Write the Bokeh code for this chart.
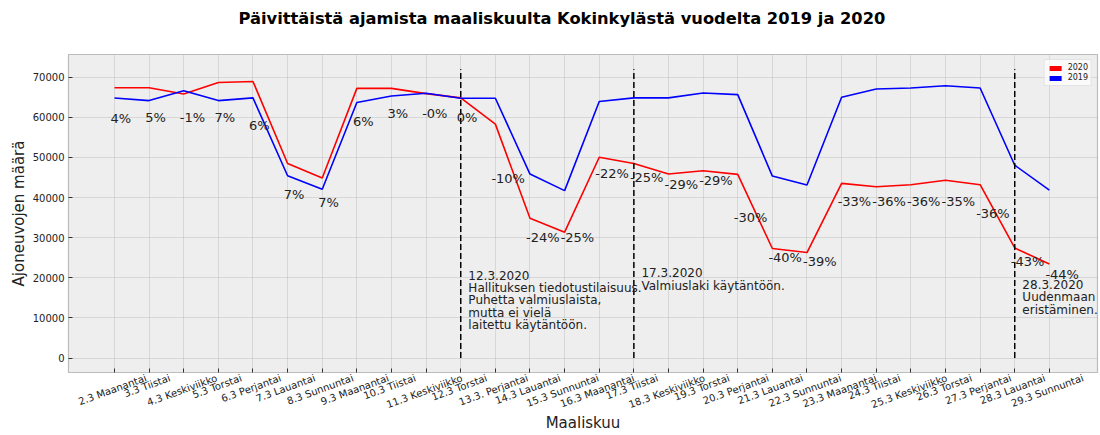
import math
from bokeh.plotting import figure
from bokeh.models import (ColumnDataSource, FixedTicker, Range1d, Label, Legend,
                          LegendItem, BasicTickFormatter, LinearAxis, CustomLabelingPolicy)
from bokeh.core.properties import value
from bokeh.embed import file_html
from bokeh.resources import INLINE

# ---------------- data ----------------
days = ["2.3 Maanantai", "3.3 Tiistai", "4.3 Keskiviikko", "5.3 Torstai", "6.3 Perjantai",
        "7.3 Lauantai", "8.3 Sunnuntai", "9.3 Maanantai", "10.3 Tiistai", "11.3 Keskiviikko",
        "12.3 Torstai", "13.3. Perjantai", "14.3 Lauantai", "15.3 Sunnuntai", "16.3 Maanantai",
        "17.3 Tiistai", "18.3 Keskiviikko", "19.3 Torstai", "20.3 Perjantai", "21.3 Lauantai",
        "22.3 Sunnuntai", "23.3 Maanantai", "24.3 Tiistai", "25.3 Keskiviikko", "26.3 Torstai",
        "27.3 Perjantai", "28.3 Lauantai", "29.3 Sunnuntai"]

traffic_2020 = [67370, 67370, 65810, 68690, 68930, 48480, 44860, 67210, 67210, 65900,
                64830, 58300, 34850, 31380, 50040, 48480, 45850, 46670, 45770, 27300,
                26300, 43530, 42710, 43200, 44300, 43200, 27440, 23420]
traffic_2019 = [64800, 64160, 66630, 64160, 64830, 45430, 42070, 63670, 65320, 66000,
                64750, 64750, 45850, 41730, 63920, 64830, 64830, 66060, 65640, 45350,
                43130, 65000, 67040, 67290, 67860, 67290, 48060, 41830]

pct_labels = ["4%", "5%", "-1%", "7%", "6%", "7%", "7%", "6%", "3%", "-0%",
              "0%", "-10%", "-24%", "-25%", "-22%", "-25%", "-29%", "-29%", "-30%", "-40%",
              "-39%", "-33%", "-36%", "-36%", "-35%", "-36%", "-43%", "-44%"]

event_days = [10, 15, 26]
event_texts = ["12.3.2020\nHallituksen tiedotustilaisuus.\nPuhetta valmiuslaista,\nmutta ei vielä\nlaitettu käytäntöön.",
               "17.3.2020\nValmiuslaki käytäntöön.",
               "28.3.2020\nUudenmaan\neristäminen."]
y_ticks = [0, 10000, 20000, 30000, 40000, 50000, 60000, 70000]

# ---------------- layout / style ----------------
FONT = "DejaVu Sans"
W, H = 1100, 435
BL, BR, BT, BB = 68, 3, 52, 62
X0, X1 = -1.328, 28.39
vline_top = 72000
label_factor = 0.92
label_dx = -0.115
label_nudge = [0, 900, -600, 900, -1700, -1000, 0, 300, 800, 200,
               300, -8800, -2100, 1100, 0, 500, 1000, 1300, -7000, 0,
               -200, -1100, -300, -800, -1800, -3600, -1250, -600]
event_dx = 0.22
event_top = [22300, 22900, 20000]

# DejaVu Sans advance widths (units of 1/2048 em) for centring rotated tick labels
ADV = {" ": 651, ".": 651, "M": 1767, "T": 1251, "K": 1343, "P": 1235, "L": 1141, "S": 1300,
       "a": 1255, "n": 1298, "t": 803, "i": 569, "s": 1067, "e": 1260, "k": 1186, "v": 1212,
       "j": 569, "o": 1253, "r": 842, "u": 1298, "l": 569}
TICK_FS = 10
ROT = math.radians(20)


def text_width(s, fs):
    return sum(ADV.get(c, 1303) for c in s) / 2048.0 * fs


idx = list(range(len(days)))
px_per_unit = (W - BL - BR) / (X1 - X0)
hide_labels = "return new Set()"

p = figure(width=W, height=H, output_backend="svg", toolbar_location=None,
           x_range=Range1d(X0, X1), y_range=Range1d(-3600, 75650),
           min_border_left=BL, min_border_right=BR, min_border_top=BT, min_border_bottom=BB)

p.background_fill_color = "#eeeeee"
p.border_fill_color = "white"
p.outline_line_color = "#bcbcbc"
p.outline_line_width = 1.2

# default axes (grab them before any extra axis is added)
xa = p.below[0]
ya = p.left[0]

# title
p.title.text = "Päivittäistä ajamista maaliskuulta Kokinkylästä vuodelta 2019 ja 2020"
p.title.text_font = FONT
p.title.text_font_size = "16.3px"
p.title.text_font_style = "bold"
p.title.text_color = "black"
p.title.align = "left"
p.title.offset = 170
p.title.standoff = 13

# axis A: tick marks only, next to the frame; its labels are hidden
xa.ticker = FixedTicker(ticks=idx)
xa.major_label_text_font_size = "1px"
xa.major_label_standoff = 0
xa.major_label_policy = CustomLabelingPolicy(code=hide_labels)
ya.ticker = FixedTicker(ticks=y_ticks)
ya.formatter = BasicTickFormatter(use_scientific=False)
ya.axis_label = "Ajoneuvojen määrä"
for ax in (xa, ya):
    ax.axis_line_color = None
    ax.major_tick_in = 4
    ax.major_tick_out = 0
    ax.major_tick_line_color = "#333333"
    ax.minor_tick_line_color = None
ya.major_label_text_font = FONT
ya.major_label_text_font_size = "10px"
ya.major_label_text_color = "#222222"
ya.major_label_standoff = 4
ya.axis_label_text_font = FONT
ya.axis_label_text_font_size = "15px"
ya.axis_label_text_font_style = "normal"
ya.axis_label_text_color = "#222222"
ya.axis_label_standoff = 2

# invisible spacer between title and frame (pushes the title upward)
spacer = LinearAxis(ticker=FixedTicker(ticks=idx), axis_line_color=None,
                    major_tick_line_color=None, minor_tick_line_color=None,
                    major_tick_in=0, major_tick_out=16, major_label_standoff=0,
                    major_label_text_font_size="1px",
                    major_label_policy=CustomLabelingPolicy(code=hide_labels))
p.add_layout(spacer, "above")

# axis B: rotated day labels, centred on the day positions
shift = [(text_width(d, TICK_FS) * math.cos(ROT) - 1.2 * TICK_FS * math.sin(ROT)) / 2 / px_per_unit
         for d in days]
label_pos = [round(i + s, 4) for i, s in zip(idx, shift)]
xb = LinearAxis(ticker=FixedTicker(ticks=label_pos),
                major_label_overrides={lp: d for lp, d in zip(label_pos, days)},
                major_label_orientation=ROT, axis_line_color=None,
                major_tick_line_color=None, minor_tick_line_color=None,
                major_tick_in=0, major_tick_out=0, major_label_standoff=1,
                major_label_text_font=FONT, major_label_text_font_size=f"{TICK_FS}px",
                major_label_text_color="#222222",
                axis_label="Maaliskuu", axis_label_text_font=FONT,
                axis_label_text_font_size="15px", axis_label_text_font_style="normal",
                axis_label_text_color="#222222", axis_label_standoff=-4)
p.add_layout(xb, "below")

p.xgrid.ticker = FixedTicker(ticks=idx)
p.ygrid.ticker = FixedTicker(ticks=y_ticks)
for g in (p.xgrid[0], p.ygrid[0]):
    g.grid_line_color = "#b2b2b2"
    g.grid_line_dash = "1 1"
    g.grid_line_width = 0.8

# lines
src = ColumnDataSource(dict(x=idx, y20=traffic_2020, y19=traffic_2019))
p.line("x", "y20", source=src, line_color="#ff0000", line_width=1.6)
p.line("x", "y19", source=src, line_color="#0000ff", line_width=1.6)

# event lines
p.segment(x0=event_days, y0=[0] * len(event_days), x1=event_days, y1=[vline_top] * len(event_days),
          line_color="black", line_width=1.5, line_dash="6 3")

# percentage labels
lab_x = [i + label_dx for i in idx]
lab_y = [min(a, b) * label_factor + n for a, b, n in zip(traffic_2020, traffic_2019, label_nudge)]
p.text(x=lab_x, y=lab_y, text=pct_labels, text_align="left", text_baseline="alphabetic",
       text_font=value(FONT), text_font_size="13px", text_color="#222222")

# event annotations
for d, t, yt in zip(event_days, event_texts, event_top):
    p.add_layout(Label(x=d + event_dx, y=yt, text=t, text_align="left", text_baseline="top",
                       text_font=FONT, text_font_size="12px", text_color="#222222",
                       text_line_height=0.89))

# legend with patch swatches (zero-size quads on the data, only used for the legend)
r20 = p.quad(left="x", right="x", top="y20", bottom="y20", source=src,
             fill_color="#ff0000", line_color=None)
r19 = p.quad(left="x", right="x", top="y19", bottom="y19", source=src,
             fill_color="#0000ff", line_color=None)
legend = Legend(items=[LegendItem(label="2020", renderers=[r20]),
                       LegendItem(label="2019", renderers=[r19])],
                location="top_right", margin=5, padding=3, spacing=1,
                glyph_width=15, glyph_height=6, label_height=8, label_standoff=5,
                label_text_font=FONT, label_text_font_size="8px", label_text_color="#222222",
                border_line_color="#cccccc", background_fill_color="white",
                background_fill_alpha=0.7)
p.add_layout(legend, "center")

open("out.html", "w").write(file_html(p, INLINE))
